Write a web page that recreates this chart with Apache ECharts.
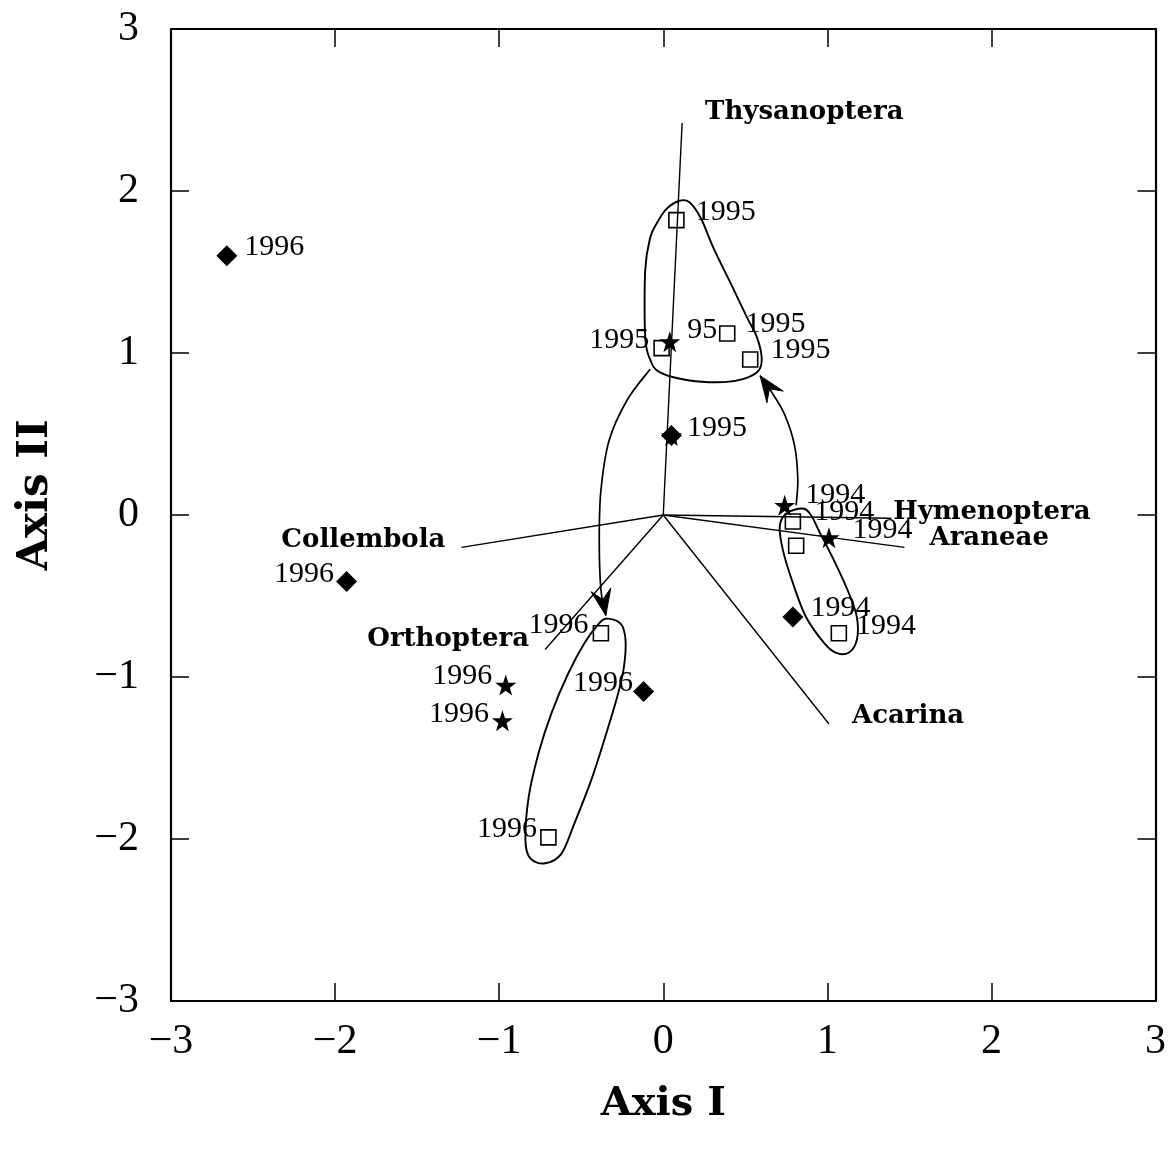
<!DOCTYPE html>
<html>
<head>
<meta charset="utf-8">
<script src="https://cdn.jsdelivr.net/npm/echarts@6/dist/echarts.min.js"></script>
<style>
  html, body { margin: 0; padding: 0; background: #fff; }
  #chart { width: 1169px; height: 1152px; }
</style>
</head>
<body>
<div id="chart"></div>
<script>
// Axis range and ticks
const axisMin = -3;
const axisMax = 3;
const axisStep = 1;

// Site scores: [Axis I, Axis II, year label]
const squarePoints = [
  [0.08, 1.82, '1995'],
  [-0.01, 1.03, '1995'],
  [0.39, 1.12, '1995'],
  [0.53, 0.96, '1995'],
  [0.79, -0.04, '1994'],
  [0.81, -0.19, ''],
  [1.07, -0.73, '1994'],
  [-0.38, -0.73, '1996'],
  [-0.70, -1.99, '1996']
];
const starPoints = [
  [0.04, 1.07, '95'],
  [0.05, 0.49, '1995'],
  [0.74, 0.06, '1994'],
  [1.01, -0.14, '1994'],
  [-0.96, -1.05, '1996'],
  [-0.98, -1.27, '1996']
];
const diamondPoints = [
  [-2.66, 1.60, '1996'],
  [-1.93, -0.41, '1996'],
  [0.05, 0.49, ''],
  [-0.12, -1.09, '1996'],
  [0.79, -0.63, '1994']
];

// Taxon (species) biplot vectors from the origin
const speciesNames = ['Thysanoptera', 'Hymenoptera', 'Araneae', 'Collembola', 'Orthoptera', 'Acarina'];
const speciesScores = [
  [0.115, 2.42],
  [1.39, -0.02],
  [1.47, -0.20],
  [-1.23, -0.20],
  [-0.72, -0.83],
  [1.01, -1.29]
];

// Outlines enclosing each year's sites
const hull1995 = [
  [0.10, 1.94], [0.16, 1.93], [0.23, 1.83], [0.31, 1.64], [0.43, 1.39], [0.51, 1.22],
  [0.57, 1.10], [0.60, 0.97], [0.58, 0.89], [0.49, 0.84], [0.37, 0.82], [0.16, 0.83],
  [-0.02, 0.88], [-0.08, 0.96], [-0.11, 1.10], [-0.11, 1.51], [-0.08, 1.71], [-0.04, 1.80], [0.02, 1.89]
];
const hull1994 = [
  [0.75, 0.01], [0.85, 0.04], [0.90, 0.00], [0.95, -0.10], [1.05, -0.30], [1.13, -0.48],
  [1.18, -0.63], [1.18, -0.77], [1.13, -0.85], [1.05, -0.85], [0.98, -0.79], [0.87, -0.63],
  [0.79, -0.42], [0.73, -0.22], [0.71, -0.07]
];
const hull1996 = [
  [-0.35, -0.64], [-0.26, -0.67], [-0.23, -0.77], [-0.24, -0.94], [-0.28, -1.12], [-0.36, -1.39],
  [-0.44, -1.64], [-0.54, -1.90], [-0.62, -2.09], [-0.72, -2.15], [-0.81, -2.12], [-0.84, -2.01],
  [-0.82, -1.74], [-0.76, -1.47], [-0.68, -1.22], [-0.58, -0.98], [-0.48, -0.79], [-0.40, -0.68]
];

// Trajectories between years
const arrow1995to1996 = [
  [-0.08, 0.90], [-0.22, 0.71], [-0.33, 0.46], [-0.38, 0.15], [-0.39, -0.15], [-0.38, -0.46], [-0.35, -0.62]
];
const arrow1994to1995 = [
  [0.81, 0.06], [0.82, 0.22], [0.80, 0.43], [0.74, 0.62], [0.66, 0.76], [0.59, 0.86]
];

const hulls = [hull1995, hull1994, hull1996];
const arrows = [arrow1995to1996, arrow1994to1995];

// Label placement (side, dx, dy in pixels)
const squareLabelPlace = [
  ['right', 11, -8], ['left', -4, -8], ['right', 10, -9], ['right', 12, -9],
  ['right', 13, -9], ['right', 0, 0], ['right', 9, -7], ['left', -4, -8], ['left', -3, -8]
];
const starLabelPlace = [
  ['right', 7, -12], ['right', 5, -7], ['right', 10, -10], ['right', 13, -8], ['left', -3, -9], ['left', -3, -7]
];
const diamondLabelPlace = [
  ['right', 7, -9], ['left', -2, -7], ['right', 0, 0], ['left', 0, -8], ['right', 7, -9]
];
const speciesLabelPlace = [
  ['left', 23, -11], ['left', 2, -6], ['left', 25, -9], ['right', -16, -7], ['right', -16, -10], ['left', 23, -8]
];

const serif = '"Liberation Serif", "Times New Roman", serif';
const boldSerif = '"DejaVu Serif", "Liberation Serif", serif';
const yearFont = { fontFamily: serif, fontSize: 30, color: '#000', opacity: 1 };

function minusFmt(v) {
  return v < 0 ? '\u2212' + Math.abs(v) : String(v);
}

function withLabels(points, place) {
  return points.map((p, i) => ({
    value: p,
    label: {
      show: p[2] !== '',
      position: place[i][0],
      distance: 0,
      offset: [place[i][1], place[i][2]]
    }
  }));
}

function closedSplinePath(pts) {
  const n = pts.length;
  let d = 'M' + pts[0][0] + ',' + pts[0][1];
  for (let i = 0; i < n; i++) {
    const p0 = pts[(i - 1 + n) % n], p1 = pts[i], p2 = pts[(i + 1) % n], p3 = pts[(i + 2) % n];
    const c1 = [p1[0] + (p2[0] - p0[0]) / 6, p1[1] + (p2[1] - p0[1]) / 6];
    const c2 = [p2[0] - (p3[0] - p1[0]) / 6, p2[1] - (p3[1] - p1[1]) / 6];
    d += ' C' + c1.join(',') + ' ' + c2.join(',') + ' ' + p2.join(',');
  }
  return d + ' Z';
}

function openSplinePath(pts) {
  const n = pts.length;
  let d = 'M' + pts[0][0] + ',' + pts[0][1];
  let lastC2 = pts[0];
  for (let i = 0; i < n - 1; i++) {
    const p0 = pts[Math.max(i - 1, 0)], p1 = pts[i], p2 = pts[i + 1], p3 = pts[Math.min(i + 2, n - 1)];
    const c1 = [p1[0] + (p2[0] - p0[0]) / 6, p1[1] + (p2[1] - p0[1]) / 6];
    const c2 = [p2[0] - (p3[0] - p1[0]) / 6, p2[1] - (p3[1] - p1[1]) / 6];
    d += ' C' + c1.join(',') + ' ' + c2.join(',') + ' ' + p2.join(',');
    lastC2 = c2;
  }
  return { d: d, lastC2: lastC2 };
}

const starPath = 'path://M50,0 L61.8,35.1 L98.1,35.1 L68.8,56.7 L79.4,91 L50,70 L20.6,91 L31.2,56.7 L1.9,35.1 L38.2,35.1 Z';

const chart = echarts.init(document.getElementById('chart'), null, { renderer: 'canvas' });

const axisCommon = {
  type: 'value',
  min: axisMin,
  max: axisMax,
  interval: axisStep,
  splitLine: { show: false },
  axisLine: { show: true, onZero: false, lineStyle: { color: '#000', width: 2.2 } },
  axisTick: { show: true, inside: true, length: 18, lineStyle: { color: '#000', width: 1.5 } }
};

const option = {
  backgroundColor: '#fff',
  animation: false,
  grid: { left: 171, right: 8, top: 29, bottom: 151 },
  xAxis: [
    Object.assign({}, axisCommon, {
      position: 'bottom',
      name: 'Axis I',
      nameLocation: 'middle',
      nameGap: 84,
      nameTextStyle: { fontFamily: boldSerif, fontWeight: 'bold', fontSize: 40, color: '#000' },
      axisLabel: { formatter: minusFmt, fontFamily: serif, fontSize: 42, color: '#000', margin: 20 }
    }),
    Object.assign({}, axisCommon, {
      position: 'top',
      axisLabel: { show: false }
    })
  ],
  yAxis: [
    Object.assign({}, axisCommon, {
      position: 'left',
      name: 'Axis II',
      nameLocation: 'middle',
      nameGap: 114,
      nameTextStyle: { fontFamily: boldSerif, fontWeight: 'bold', fontSize: 42, color: '#000', padding: [0, 0, 0, 40] },
      axisLabel: { formatter: minusFmt, fontFamily: serif, fontSize: 42, color: '#000', margin: 32 }
    }),
    Object.assign({}, axisCommon, {
      position: 'right',
      axisLabel: { show: false }
    })
  ],
  series: [
    {
      // year outlines
      type: 'custom',
      xAxisIndex: 0, yAxisIndex: 0,
      z: 2,
      silent: true,
      data: hulls.map((h, i) => [h[0][0], h[0][1], i]),
      renderItem: function (params, api) {
        const pts = hulls[api.value(2)].map(p => api.coord(p));
        return {
          type: 'path',
          shape: { pathData: closedSplinePath(pts) },
          style: { fill: null, stroke: '#000', lineWidth: 1.9 }
        };
      }
    },
    {
      // trajectories between years
      type: 'custom',
      xAxisIndex: 0, yAxisIndex: 0,
      z: 2,
      silent: true,
      data: arrows.map((a, i) => [a[0][0], a[0][1], i]),
      renderItem: function (params, api) {
        const pts = arrows[api.value(2)].map(p => api.coord(p));
        const sp = openSplinePath(pts);
        const tip = pts[pts.length - 1];
        let ux = tip[0] - sp.lastC2[0], uy = tip[1] - sp.lastC2[1];
        const len = Math.hypot(ux, uy) || 1;
        ux /= len; uy /= len;
        const nx = -uy, ny = ux;
        const L = 26, W = 10;
        const bx = tip[0] - ux * L, by = tip[1] - uy * L;
        const notch = [tip[0] - ux * L * 0.62, tip[1] - uy * L * 0.62];
        return {
          type: 'group',
          children: [
            { type: 'path', shape: { pathData: sp.d }, style: { fill: null, stroke: '#000', lineWidth: 1.7 } },
            {
              type: 'polygon',
              shape: { points: [tip, [bx + nx * W, by + ny * W], notch, [bx - nx * W, by - ny * W]] },
              style: { fill: '#000', stroke: '#000', lineWidth: 1 }
            }
          ]
        };
      }
    },
    {
      // taxon vectors with names
      type: 'custom',
      xAxisIndex: 0, yAxisIndex: 0,
      z: 2,
      silent: true,
      data: speciesScores.map((s, i) => [s[0], s[1], i]),
      renderItem: function (params, api) {
        const i = api.value(2);
        const o = api.coord([0, 0]);
        const e = api.coord([api.value(0), api.value(1)]);
        const pl = speciesLabelPlace[i];
        return {
          type: 'group',
          children: [
            { type: 'line', shape: { x1: o[0], y1: o[1], x2: e[0], y2: e[1] }, style: { stroke: '#000', lineWidth: 1.4 } },
            {
              type: 'text',
              x: e[0] + pl[1],
              y: e[1] + pl[2],
              style: {
                text: speciesNames[i],
                fontFamily: boldSerif,
                fontWeight: 'bold',
                fontSize: 26,
                fill: '#000',
                align: pl[0],
                verticalAlign: 'middle'
              }
            }
          ]
        };
      }
    },
    {
      type: 'scatter',
      name: 'squares',
      z: 3,
      symbol: 'rect',
      symbolSize: 15,
      itemStyle: { color: 'rgba(0,0,0,0)', borderColor: '#000', borderWidth: 1.6, opacity: 1 },
      label: Object.assign({ show: true, formatter: p => p.value[2] }, yearFont),
      data: withLabels(squarePoints, squareLabelPlace)
    },
    {
      type: 'scatter',
      name: 'diamonds',
      z: 3,
      symbol: 'diamond',
      symbolSize: [21, 21],
      itemStyle: { color: '#000', opacity: 1 },
      label: Object.assign({ show: true, formatter: p => p.value[2] }, yearFont),
      data: withLabels(diamondPoints, diamondLabelPlace)
    },
    {
      type: 'scatter',
      name: 'stars',
      z: 4,
      symbol: starPath,
      symbolSize: 21,
      itemStyle: { color: '#000', opacity: 1 },
      label: Object.assign({ show: true, formatter: p => p.value[2] }, yearFont),
      data: withLabels(starPoints, starLabelPlace)
    }
  ]
};

chart.setOption(option);
</script>
</body>
</html>
